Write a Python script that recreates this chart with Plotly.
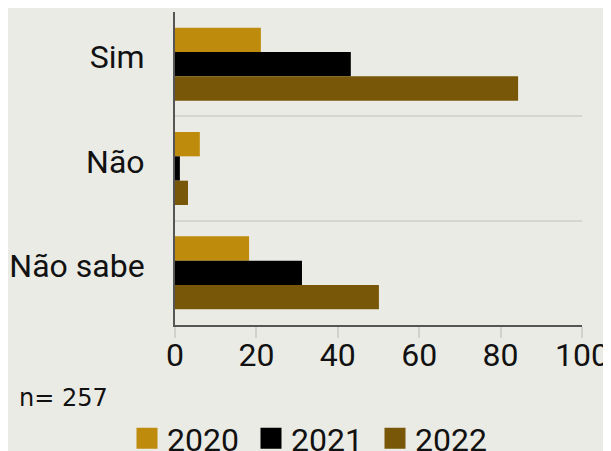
import plotly.graph_objects as go

categories = ["Sim", "Não", "Não sabe"]
years = ["2020", "2021", "2022"]
values_2020 = [21.1, 6.1, 18.2]
values_2021 = [43.2, 1.2, 31.2]
values_2022 = [84.3, 3.2, 50.1]
colors = ["#BF8B0C", "#000000", "#785708"]
x_ticks = [0, 20, 40, 60, 80, 100]
note = "n= 257"

FONT = "Roboto, sans-serif"
BG = "#EBEBE5"

# page body has an 8px margin: the figure is sized to fill the rest of the window
OFF = 8
W, H = 611 - OFF, 451 - OFF
PL, PR, PT, PB = 175, 582, 12, 325          # plot area in window pixels
PW, PH = PR - PL, PB - PT

def px(X):
    return (X - PL) / PW

def py(Y):
    return (PB - Y) / PH

fig = go.Figure()
for name, vals, col in zip(years, [values_2020, values_2021, values_2022], colors):
    fig.add_trace(go.Bar(y=categories, x=vals, name=name, orientation="h",
                         legendgroup=name, showlegend=False,
                         marker=dict(color=col, line=dict(width=0))))
# legend entries with larger square swatches
for name, col in zip(years, colors):
    fig.add_trace(go.Scatter(x=[None], y=[None], mode="markers", name=name,
                             legendgroup=name, showlegend=True,
                             marker=dict(symbol="square", size=16, color=col,
                                         line=dict(color=col, width=5))))

fig.update_layout(
    width=W, height=H,
    paper_bgcolor=BG, plot_bgcolor=BG,
    margin=dict(l=PL - OFF, r=W - (PR - OFF), t=PT - OFF, b=H - (PB - OFF), autoexpand=False),
    barmode="group", bargap=0.3, bargroupgap=0,
    font=dict(family=FONT, size=32, color="#111111"),
    showlegend=True,
    legend=dict(orientation="h", xref="paper", x=px(313), xanchor="center",
                yref="paper", y=py(438.5), yanchor="middle",
                font=dict(size=32), itemwidth=30, tracegroupgap=0,
                entrywidth=79, entrywidthmode="pixels",
                bgcolor="rgba(0,0,0,0)", itemsizing="trace"),
    annotations=[dict(text=note, xref="paper", yref="paper",
                      x=px(17), y=py(398),
                      xanchor="left", yanchor="middle", showarrow=False,
                      font=dict(size=24, family="DejaVu Sans", color="#111111"))],
)
fig.update_xaxes(range=[0, 100], tickvals=x_ticks, showgrid=False, zeroline=False,
                 showline=True, linecolor="#555555", linewidth=2, automargin=False,
                 ticks="outside", tickcolor="#D2D2CD", ticklen=11, tickwidth=1.5,
                 ticklabelstandoff=-10, tickfont=dict(size=32))
fig.update_yaxes(autorange="reversed", showline=True, linecolor="#555555", linewidth=2,
                 showgrid=True, gridcolor="#D6D6D1", gridwidth=2, tickson="boundaries",
                 ticks="", ticklabelstandoff=22, ticklabelshift=7,
                 tickfont=dict(size=32), automargin=False)

fig.write_html("out.html")
